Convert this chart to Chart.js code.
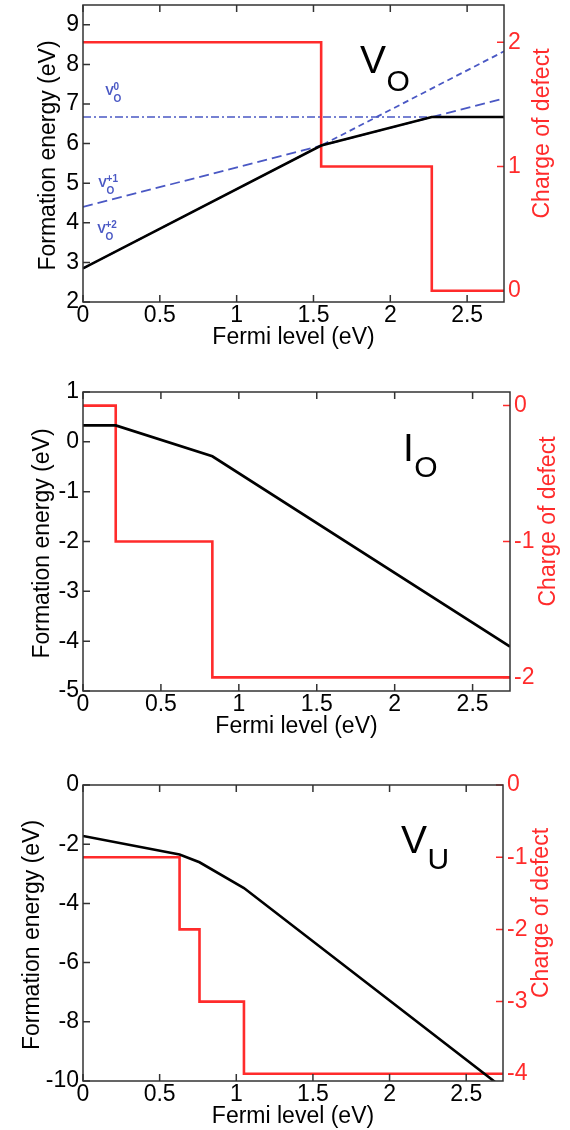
<!DOCTYPE html>
<html>
<head>
<meta charset="utf-8">
<script src="https://cdn.jsdelivr.net/npm/chart.js@4.4.1/dist/chart.umd.min.js"></script>
<style>
  html, body { margin: 0; padding: 0; background: #fff; }
  #wrap { position: relative; width: 570px; height: 1130px; }
  canvas { position: absolute; left: 0; }
</style>
</head>
<body>
<div id="wrap">
  <canvas id="c1" width="570" height="370" style="top:0px"></canvas>
  <canvas id="c2" width="570" height="390" style="top:370px"></canvas>
  <canvas id="c3" width="570" height="370" style="top:760px"></canvas>
</div>
<script>
// Eje común: nivel de Fermi (eV)
const fermiMax = 2.74;
const fermiTicks = [0, 0.5, 1, 1.5, 2, 2.5];

// V_O
const voFermi  = [0, 1.55, 2.27, 2.74];
const voEnergy = [2.85, 5.95, 6.67, 6.67];
const voCharge = [2, 1, 0, 0];
const voQ0 = [6.67, 6.67];   // valores en x = 0 y x = fermiMax
const voQ1 = [4.40, 7.14];
const voQ2 = [2.85, 8.33];
const voEnergyTicks = [2, 3, 4, 5, 6, 7, 8, 9];
const voChargeTicks = [0, 1, 2];

// I_O
const ioFermi  = [0, 0.21, 0.83, 2.74];
const ioEnergy = [0.33, 0.33, -0.29, -4.11];
const ioCharge = [0, -1, -2, -2];
const ioEnergyTicks = [-5, -4, -3, -2, -1, 0, 1];
const ioChargeTicks = [-2, -1, 0];

// V_U
const vuFermi  = [0, 0.63, 0.76, 1.05, 2.74];
const vuEnergy = [-1.72, -2.35, -2.61, -3.48, -10.24];
const vuCharge = [-1, -2, -3, -4, -4];
const vuEnergyTicks = [-10, -8, -6, -4, -2, 0];
const vuChargeTicks = [-4, -3, -2, -1, 0];

const FONT = '"Liberation Sans", Arial, Helvetica, sans-serif';
const RED = '#ff2b2b';
const BLUE = '#4a58c4';
const AXIS = '#333';
const TICK = 7;

const pts = (xs, ys) => xs.map((x, i) => ({ x: x, y: ys[i] }));
const ends = (ys) => [{ x: 0, y: ys[0] }, { x: fermiMax, y: ys[1] }];

// Dibuja marco, ticks hacia dentro, títulos y etiquetas
const decor = {
  id: 'decor',
  afterDatasetsDraw(chart, args, o) {
    const { ctx, chartArea: a, scales } = chart;
    ctx.save();
    ctx.lineWidth = 1.5;
    ctx.strokeStyle = AXIS;
    ctx.beginPath();
    scales.x.ticks.forEach(t => {
      const px = scales.x.getPixelForValue(t.value);
      ctx.moveTo(px, a.bottom); ctx.lineTo(px, a.bottom - TICK);
      ctx.moveTo(px, a.top); ctx.lineTo(px, a.top + TICK);
    });
    scales.y.ticks.forEach(t => {
      const py = scales.y.getPixelForValue(t.value);
      ctx.moveTo(a.left, py); ctx.lineTo(a.left + TICK, py);
    });
    ctx.stroke();
    ctx.strokeStyle = RED;
    ctx.beginPath();
    scales.y2.ticks.forEach(t => {
      const py = scales.y2.getPixelForValue(t.value);
      ctx.moveTo(a.right, py); ctx.lineTo(a.right - TICK, py);
    });
    ctx.stroke();
    ctx.strokeStyle = AXIS;
    ctx.strokeRect(a.left, a.top, a.right - a.left, a.bottom - a.top);

    // títulos de ejes
    ctx.font = '23px ' + FONT;
    ctx.fillStyle = '#000';
    ctx.textAlign = 'center';
    ctx.textBaseline = 'alphabetic';
    ctx.fillText('Fermi level (eV)', (a.left + a.right) / 2, a.bottom + 42);
    ctx.textBaseline = 'middle';
    ctx.save();
    ctx.translate(a.left - o.leftGap, (a.top + a.bottom) / 2 + 2);
    ctx.rotate(-Math.PI / 2);
    ctx.fillText('Formation energy (eV)', 0, 0);
    ctx.restore();
    ctx.save();
    ctx.fillStyle = RED;
    ctx.translate(a.right + 39, (a.top + a.bottom) / 2 - 20);
    ctx.rotate(-Math.PI / 2);
    ctx.fillText('Charge of defect', 0, 0);
    ctx.restore();

    // nombre del defecto
    ctx.textAlign = 'left';
    ctx.textBaseline = 'alphabetic';
    ctx.fillStyle = '#000';
    ctx.font = '39px ' + FONT;
    const lx = a.left + o.name.dx, ly = a.top + o.name.dy;
    ctx.fillText(o.name.main, lx, ly);
    const w = ctx.measureText(o.name.main).width;
    ctx.font = '30px ' + FONT;
    ctx.fillText(o.name.sub, lx + w + 0.5, ly + o.name.subDy);

    // etiquetas de estados de carga
    (o.states || []).forEach(s => {
      const px = scales.x.getPixelForValue(s.x);
      const py = scales.y.getPixelForValue(s.y);
      ctx.fillStyle = BLUE;
      ctx.font = 'bold 13px ' + FONT;
      ctx.fillText('V', px, py);
      const vw = ctx.measureText('V').width;
      ctx.font = 'bold 10px ' + FONT;
      ctx.fillText(s.sup, px + vw - 0.5, py - 5);
      ctx.fillText('O', px + vw - 0.5, py + 7);
    });
    ctx.restore();
  }
};

const noPad = s => { s.paddingTop = 0; s.paddingBottom = 0; s.paddingLeft = 0; s.paddingRight = 0; };

function panel(id, o) {
  const tickFont = { family: FONT, size: 23 };
  const grid = { display: false, drawTicks: false, tickLength: 0 };
  return new Chart(document.getElementById(id), {
    type: 'line',
    data: { datasets: o.datasets },
    options: {
      responsive: false,
      animation: false,
      devicePixelRatio: 1,
      layout: { padding: { top: o.top, left: 0, right: 0, bottom: 0 } },
      elements: { point: { radius: 0 }, line: { tension: 0 } },
      plugins: { legend: { display: false }, tooltip: { enabled: false }, decor: o.decor },
      scales: {
        x: {
          type: 'linear', min: 0, max: fermiMax,
          grid: grid, border: { display: false },
          afterBuildTicks: s => { s.ticks = fermiTicks.map(v => ({ value: v })); },
          afterFit: s => { s.height = o.bottomH; noPad(s); },
          ticks: { font: tickFont, color: '#000', padding: 0, maxRotation: 0, callback: v => String(v) }
        },
        y: {
          position: 'left', min: o.yMin, max: o.yMax,
          grid: grid, border: { display: false },
          afterBuildTicks: s => { s.ticks = o.yTicks.map(v => ({ value: v })); },
          afterFit: s => { s.width = 83; noPad(s); },
          ticks: { font: tickFont, color: '#000', padding: 4, callback: v => String(v) }
        },
        y2: {
          position: 'right', min: o.qMin, max: o.qMax,
          grid: grid, border: { display: false },
          afterBuildTicks: s => { s.ticks = o.qTicks.map(v => ({ value: v })); },
          afterFit: s => { s.width = o.rightW; noPad(s); },
          ticks: { font: tickFont, color: RED, padding: 4, callback: v => String(v) }
        }
      }
    },
    plugins: [decor]
  });
}

const energyLine = (xs, ys) => ({ data: pts(xs, ys), borderColor: '#000', borderWidth: 2.6, yAxisID: 'y' });
const chargeLine = (xs, qs) => ({ data: pts(xs, qs), borderColor: RED, borderWidth: 2.6, stepped: true, yAxisID: 'y2' });

panel('c1', {
  top: 5, bottomH: 68, rightW: 66,
  yMin: 2, yMax: 9.5, yTicks: voEnergyTicks,
  qMin: -0.09, qMax: 2.3, qTicks: voChargeTicks,
  datasets: [
    energyLine(voFermi, voEnergy),
    { data: ends(voQ2), borderColor: BLUE, borderWidth: 1.8, borderDash: [6, 4], yAxisID: 'y' },
    { data: ends(voQ1), borderColor: BLUE, borderWidth: 1.8, borderDash: [10, 5], yAxisID: 'y' },
    { data: ends(voQ0), borderColor: BLUE, borderWidth: 1.5, borderDash: [8, 3, 2, 3], yAxisID: 'y' },
    chargeLine(voFermi, voCharge)
  ],
  decor: {
    leftGap: 34,
    name: { main: 'V', sub: 'O', dx: 277, dy: 68, subDy: 18 },
    states: [
      { sup: '0', x: 0.145, y: 7.22 },
      { sup: '+1', x: 0.10, y: 4.9 },
      { sup: '+2', x: 0.093, y: 3.73 }
    ]
  }
});

panel('c2', {
  top: 22, bottomH: 69, rightW: 60,
  yMin: -5, yMax: 1, yTicks: ioEnergyTicks,
  qMin: -2.1, qMax: 0.1, qTicks: ioChargeTicks,
  datasets: [
    energyLine(ioFermi, ioEnergy),
    chargeLine(ioFermi, ioCharge)
  ],
  decor: {
    leftGap: 40,
    name: { main: 'I', sub: 'O', dx: 320, dy: 69, subDy: 16 }
  }
});

panel('c3', {
  top: 25, bottomH: 49, rightW: 67,
  yMin: -10, yMax: 0, yTicks: vuEnergyTicks,
  qMin: -4.1, qMax: 0, qTicks: vuChargeTicks,
  datasets: [
    energyLine(vuFermi, vuEnergy),
    chargeLine(vuFermi, vuCharge)
  ],
  decor: {
    leftGap: 50,
    name: { main: 'V', sub: 'U', dx: 318, dy: 68, subDy: 16 }
  }
});
</script>
</body>
</html>
